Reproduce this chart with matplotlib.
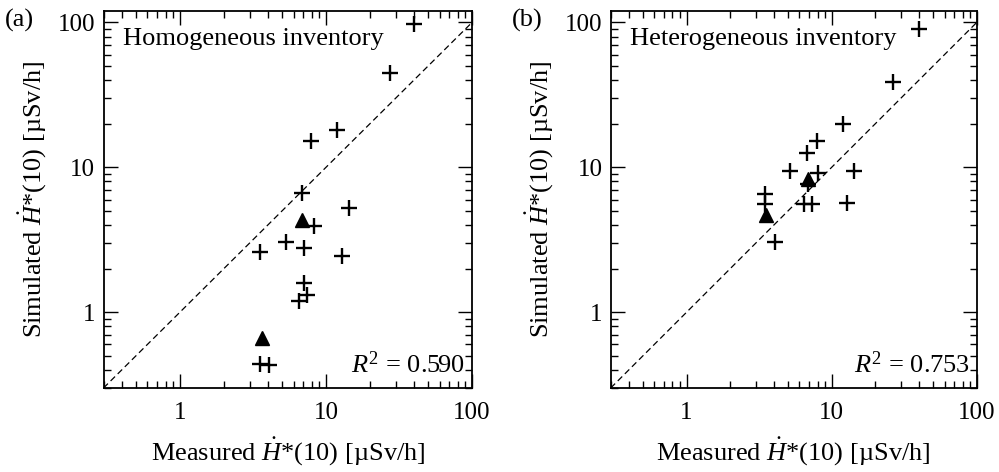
import numpy as np
import matplotlib
matplotlib.use("Agg")
import matplotlib.pyplot as plt
from matplotlib.ticker import LogLocator, NullFormatter, FixedLocator, FixedFormatter

plt.rcParams['font.family'] = ['Liberation Serif', 'DejaVu Serif']
plt.rcParams['mathtext.fontset'] = 'custom'
plt.rcParams['mathtext.rm'] = 'Liberation Serif'
plt.rcParams['mathtext.it'] = 'Liberation Serif:italic'

# (a) homogeneous inventory
homo_meas = [40.1, 27.4, 11.9, 7.94, 6.81, 14.4, 8.27, 5.35, 3.53, 7.11, 12.9, 7.11, 7.45, 6.50, 3.53, 4.07]
homo_sim = [97.4, 44.8, 18.2, 15.1, 6.69, 5.28, 3.93, 3.06, 2.61, 2.76, 2.44, 1.58, 1.32, 1.20, 0.439, 0.43]
homo_tri_meas = [6.85, 3.63]
homo_tri_sim = [4.32, 0.66]
homo_r2 = "0.590"

# (b) heterogeneous inventory
hetero_meas = [40.0, 26.5, 11.9, 7.93, 6.81, 5.20, 8.06, 14.3, 3.49, 3.49, 6.49, 7.33, 12.7, 4.06, 6.92]
hetero_sim = [90.0, 38.6, 20.0, 15.3, 12.6, 9.38, 9.19, 9.43, 6.59, 5.62, 5.62, 5.62, 5.71, 3.03, 7.72]
hetero_tri_meas = [6.84, 3.54]
hetero_tri_sim = [8.27, 4.72]
hetero_r2 = "0.753"

W, H = 999, 472
fig = plt.figure(figsize=(W / 100, H / 100), dpi=100)

panels = [
    ((103.5, 11, 472, 388), "(a)", 5, "Homogeneous inventory", homo_meas, homo_sim,
     homo_tri_meas, homo_tri_sim, homo_r2),
    ((610.7, 11, 976.7, 388), "(b)", 512, "Heterogeneous inventory", hetero_meas, hetero_sim,
     hetero_tri_meas, hetero_tri_sim, hetero_r2),
]

fs = 19
for (x0, y0, x1, y1), tag, tagx, title, mx, sy, tmx, tsy, r2 in panels:
    ax = fig.add_axes([x0 / W, (H - y1) / H, (x1 - x0) / W, (y1 - y0) / H])
    ax.set_xscale('log')
    ax.set_yscale('log')
    ax.set_xlim(0.3, 100)
    ax.set_ylim(0.3, 120)
    ax.plot([0.3, 100], [0.3, 100], color='black', lw=0.9, ls=(0, (5, 3)))
    ax.plot(mx, sy, ls='none', marker='+', ms=11, mew=1.7, color='black')
    ax.plot(tmx, tsy, ls='none', marker='^', ms=10, color='black')

    ax.xaxis.set_major_locator(FixedLocator([1, 10, 100]))
    ax.xaxis.set_major_formatter(FixedFormatter(['1', '10', '100']))
    ax.yaxis.set_major_locator(FixedLocator([1, 10, 100]))
    ax.yaxis.set_major_formatter(FixedFormatter(['1', '10', '100']))
    ax.xaxis.set_minor_locator(LogLocator(base=10, subs=np.arange(2, 10)))
    ax.yaxis.set_minor_locator(LogLocator(base=10, subs=np.arange(2, 10)))
    ax.xaxis.set_minor_formatter(NullFormatter())
    ax.yaxis.set_minor_formatter(NullFormatter())
    ax.tick_params(which='both', direction='in', top=True, right=True, labelsize=18, width=1.0)
    ax.tick_params(which='major', length=10)
    ax.tick_params(axis='x', which='major', pad=10)
    ax.tick_params(axis='y', which='major', pad=6)
    ax.tick_params(which='minor', length=5)
    for s in ax.spines.values():
        s.set_linewidth(1.3)

    ax.set_xlabel(r'Measured $\dot{H}$*(10) [µSv/h]', fontsize=fs, labelpad=8)
    ax.set_ylabel(r'Simulated $\dot{H}$*(10) [µSv/h]', fontsize=fs, labelpad=7)
    ax.text(0.053, 0.91, title, transform=ax.transAxes, fontsize=fs, va='baseline', ha='left')
    ax.text(0.981, 0.04, r'$R^2$ = ' + r2, transform=ax.transAxes, fontsize=fs,
            va='baseline', ha='right')
    fig.text(tagx / W, 1 - 27 / H, tag, fontsize=fs, va='baseline', ha='left')

fig.savefig('out.png', dpi=100)
